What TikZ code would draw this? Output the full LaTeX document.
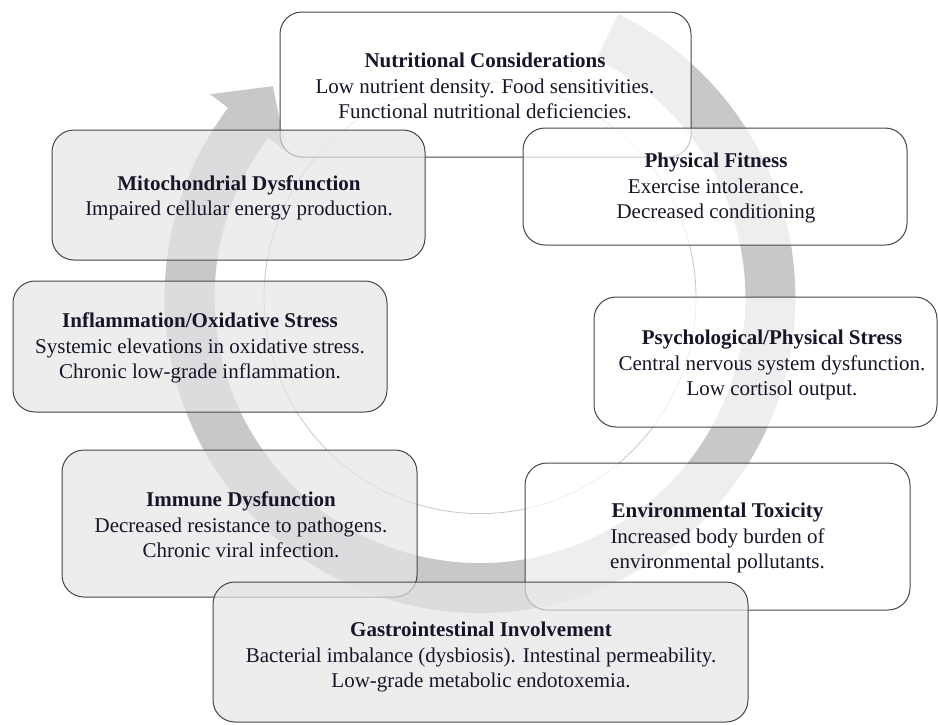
\documentclass[tikz,border=0pt]{standalone}
\usepackage{fontspec}
\setmainfont{Liberation Serif}
\definecolor{ringgrey}{RGB}{199,200,202}
\definecolor{boxgrey}{RGB}{228,229,230}
\definecolor{edgegrey}{RGB}{70,70,72}
\definecolor{ink}{RGB}{22,22,40}

\begin{document}
\begin{tikzpicture}[x = 1pt, y = -1pt, font = \fontsize{21}{25.5}\selectfont,
  box/.style = {draw = edgegrey, line width = 1pt, rounded corners = 22pt, fill = white, fill opacity = 0.7, inner sep = 0pt},
  greybox/.style = {box, fill = boxgrey},
  txt/.style = {align = center, text = ink, inner sep = 0pt}]
  \clip (0,0) rectangle (938,724);
  \coordinate (hub) at (480,297.6);

  \fill [ringgrey] ([shift = {(hub)}] 296:265.4) arc [start angle = 296, end angle = 577, radius = 265.4]
    -- ([shift = {(hub)}] 577:243) -- ([shift = {(hub)}] 585.6:296) -- ([shift = {(hub)}] 577:338)
    -- ([shift = {(hub)}] 577:315.4) arc [start angle = 577, end angle = 296, radius = 315.4] -- cycle;
  \draw [ringgrey, line width = 0.8pt] (hub) circle [radius = 216];

  \node [box, minimum width = 411, minimum height = 145] (nutrition) at (485.5,84.5) {};
  \node [txt] (nutrition text) at (485,86) {\textbf{Nutritional Considerations}\\Low nutrient density. Food sensitivities.\\Functional nutritional deficiencies.};

  \node [greybox, minimum width = 373, minimum height = 130] (mitochondria) at (238.5,195) {};
  \node [txt] (mitochondria text) at (239,198) {\textbf{Mitochondrial Dysfunction}\\Impaired cellular energy production.};

  \node [box, minimum width = 384, minimum height = 117] (fitness) at (715,186.5) {};
  \node [txt] (fitness text) at (716,188) {\textbf{Physical Fitness}\\Exercise intolerance.\\Decreased conditioning};

  \node [greybox, minimum width = 374, minimum height = 131] (inflammation) at (200,346.5) {};
  \node [txt] (inflammation text) at (200,348) {\textbf{Inflammation/Oxidative Stress}\\Systemic elevations in oxidative stress.\\Chronic low-grade inflammation.};

  \node [box, minimum width = 343, minimum height = 130] (stress) at (765.5,362) {};
  \node [txt] (stress text) at (772,365) {\textbf{Psychological/Physical Stress}\\Central nervous system dysfunction.\\Low cortisol output.};

  \node [greybox, minimum width = 355, minimum height = 147] (immune) at (239.5,523.5) {};
  \node [txt] (immune text) at (241,525) {\textbf{Immune Dysfunction}\\Decreased resistance to pathogens.\\Chronic viral infection.};

  \node [box, minimum width = 385, minimum height = 147] (toxicity) at (717.5,536.5) {};
  \node [txt] (toxicity text) at (717.5,538) {\textbf{Environmental Toxicity}\\Increased body burden of\\environmental pollutants.};

  \node [greybox, minimum width = 535, minimum height = 140] (gut) at (480.5,652) {};
  \node [txt] (gut text) at (481,657) {\textbf{Gastrointestinal Involvement}\\Bacterial imbalance (dysbiosis). Intestinal permeability.\\Low-grade metabolic endotoxemia.};
\end{tikzpicture}
\end{document}
